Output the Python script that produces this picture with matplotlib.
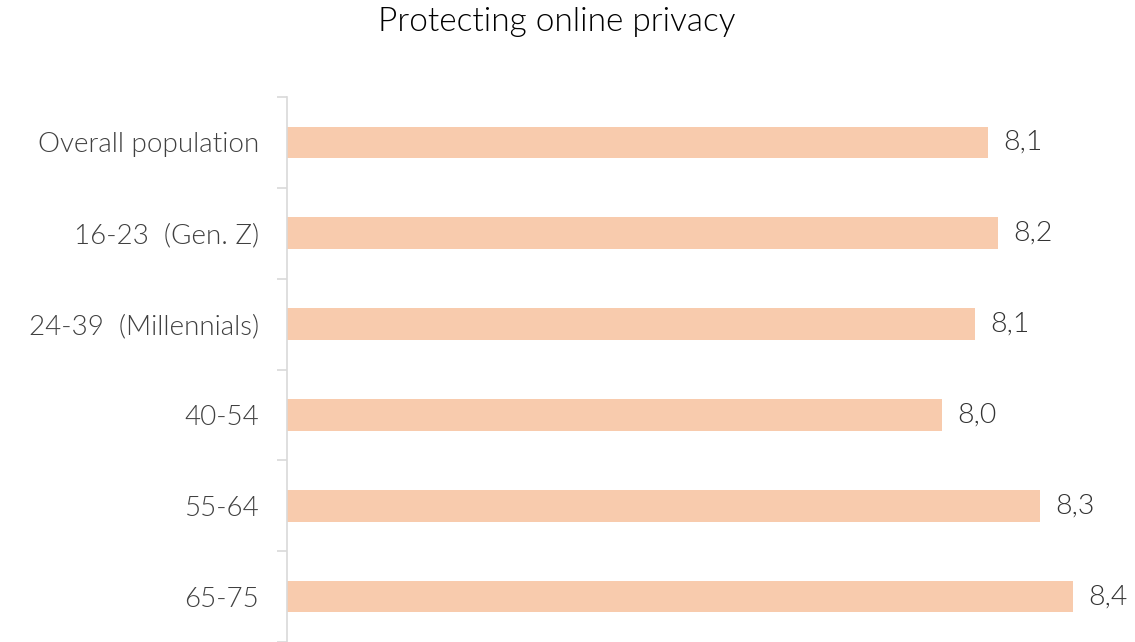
import matplotlib
matplotlib.use("Agg")
import matplotlib.pyplot as plt
from matplotlib.ticker import FixedLocator

categories = ["Overall population", "16-23  (Gen. Z)", "24-39  (Millennials)", "40-54", "55-64", "65-75"]
values = [8.14, 8.17, 8.10, 8.00, 8.30, 8.40]
value_labels = ["8,1", "8,2", "8,1", "8,0", "8,3", "8,4"]
title = "Protecting online privacy"

plt.rcParams['font.family'] = ['Lato', 'DejaVu Sans']

fig = plt.figure(figsize=(11.35, 6.42), dpi=100)
ax = fig.add_axes([287/1135, 0.0, 1 - 287/1135, 1 - 97/642])

xmin = 6.0
ys = list(range(len(categories)))
ax.barh(ys, [v - xmin for v in values], left=xmin, height=0.35, color="#F8CBAD")
ax.set_xlim(xmin, xmin + (1135 - 287) / 327.5)
ax.set_ylim(len(categories) - 0.5, -0.5)

for y, v, lab in zip(ys, values, value_labels):
    ax.text(v + 0.047, y, lab, va="center", ha="left", fontsize=20.5,
            fontweight=300, color="#333333")

ax.set_yticks(ys)
ax.set_yticklabels(categories, fontsize=20, fontweight=300, color="#404040")
ax.tick_params(axis="y", which="major", length=0, pad=20)
ax.yaxis.set_minor_locator(FixedLocator([i - 0.5 for i in range(len(categories) + 1)]))
ax.tick_params(axis="y", which="minor", length=7.5, width=1.2, color="#D9D9D9")
ax.set_xticks([])
for s in ["top", "right", "bottom"]:
    ax.spines[s].set_visible(False)
ax.spines["left"].set_color("#D9D9D9")
ax.spines["left"].set_linewidth(1.2)

fig.text(557/1135, 1 - 22/642, title, ha="center", va="center", fontsize=24,
         fontweight=300, color="#000000")

fig.savefig("out.png", dpi=100)
